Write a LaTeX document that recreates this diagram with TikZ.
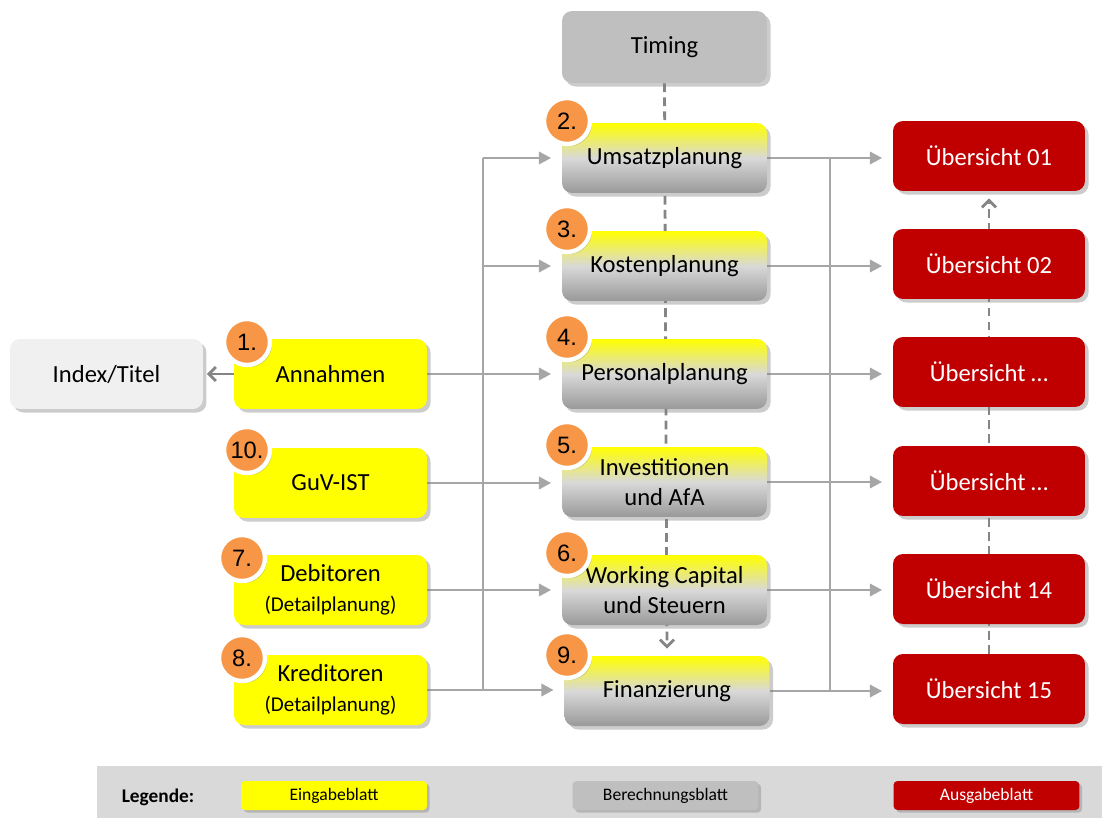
\documentclass[tikz,border=0pt]{standalone}
\usepackage{fontspec}
\setmainfont{Carlito}
\newfontfamily\badgefont{Liberation Sans}
\usetikzlibrary{arrows.meta,shadows,backgrounds}
\definecolor{eingabe}{HTML}{FFFF00}
\definecolor{ausgabe}{HTML}{C00000}
\definecolor{rechen}{HTML}{BFBFBF}
\definecolor{indexgrau}{HTML}{F0F0F0}
\definecolor{badgeorange}{HTML}{F79646}
\definecolor{linegrau}{HTML}{A6A6A6}
\definecolor{dashgrau}{HTML}{858585}
\definecolor{legendgrau}{HTML}{D9D9D9}
\tikzset{
	sheet/.style={rounded corners=0.2cm, minimum height=1.4cm, align=center, inner sep=2pt,
		font=\fontsize{14}{17}\selectfont,
		drop shadow={shadow xshift=2pt, shadow yshift=-2pt, opacity=0.4}},
	eingabe/.style={sheet, fill=eingabe, minimum width=3.86cm},
	rechnung/.style={sheet, top color=eingabe, bottom color=black!40, middle color=black!15, minimum width=4.1cm},
	ausgabe/.style={sheet, fill=ausgabe, text=white, minimum width=3.84cm},
	badge/.style={circle, fill=badgeorange, draw=white, line width=2.5pt, minimum size=0.92cm, inner sep=0pt,
		font=\badgefont\fontsize{13.5}{14}\selectfont,
		drop shadow={shadow xshift=1.2pt, shadow yshift=-1.2pt, opacity=0.35}},
	conn/.style={draw=linegrau, line width=1.6pt, -{Triangle[length=7pt,width=7pt]}, shorten >=6pt},
	trunk/.style={draw=linegrau, line width=1.6pt},
	dashconn/.style={draw=dashgrau, line width=1.6pt, dash pattern=on 5pt off 3pt,
		-{Straight Barb[length=4pt,width=8pt]}, shorten >=4pt},
	legendbox/.style={rounded corners=0.08cm, minimum width=3.72cm, minimum height=0.58cm,
		font=\fontsize{10}{12}\selectfont,
		drop shadow={shadow xshift=1.5pt, shadow yshift=-1.5pt, opacity=0.4}}
}

\begin{document}
\begin{tikzpicture}[x=0.02cm, y=-0.02cm]
			%%%%% START %%%%%
			\useasboundingbox (0, 0) rectangle (1102, 818);
			
			% Berechnungsblaetter
			\node[sheet, fill=rechen, minimum width=4.1cm, minimum height=1.44cm] (timing) at (664.5, 47) {Timing};
			\node[rechnung] (umsatz) at (664.5, 158) {Umsatzplanung};
			\node[rechnung] (kosten) at (664.5, 266) {Kostenplanung};
			\node[rechnung] (personal) at (664.5, 374) {Personalplanung};
			\node[rechnung] (invest) at (664.5, 482) {Investitionen\\und AfA};
			\node[rechnung] (wcap) at (664.5, 590) {Working Capital\\und Steuern};
			\node[rechnung] (finanz) at (667, 691) {Finanzierung};
			
			% Ausgabeblaetter
			\node[ausgabe] (ueb01) at (989, 156) {Übersicht 01};
			\node[ausgabe] (ueb02) at (989, 264) {Übersicht 02};
			\node[ausgabe] (uebA) at (989, 372) {Übersicht \dots};
			\node[ausgabe] (uebB) at (989, 481) {Übersicht \dots};
			\node[ausgabe] (ueb14) at (989, 589) {Übersicht 14};
			\node[ausgabe] (ueb15) at (989, 689) {Übersicht 15};
			
			% Eingabeblaetter
			\node[sheet, fill=indexgrau, minimum width=3.86cm] (index) at (106.5, 374) {Index/Titel};
			\node[eingabe] (annahmen) at (330.5, 374) {Annahmen};
			\node[eingabe] (guv) at (330.5, 483) {GuV-IST};
			\node[eingabe] (debitoren) at (330.5, 590) {Debitoren\\{\fontsize{12}{14}\selectfont(Detailplanung)}};
			\node[eingabe] (kreditoren) at (330.5, 690) {Kreditoren\\{\fontsize{12}{14}\selectfont(Detailplanung)}};
			
			% Nummern
			\node[badge] (b1) at (247, 342) {1.};
			\node[badge] (b10) at (247, 450) {10.};
			\node[badge] (b7) at (242, 558) {7.};
			\node[badge] (b8) at (242, 658) {8.};
			\node[badge] (b2) at (567, 121) {2.};
			\node[badge] (b3) at (567, 229) {3.};
			\node[badge] (b4) at (567, 337) {4.};
			\node[badge] (b5) at (567, 445) {5.};
			\node[badge] (b6) at (567, 553) {6.};
			\node[badge] (b9) at (567, 655) {9.};
			
			\coordinate (ltrunk) at (483, 0);
			\coordinate (rtrunk) at (830, 0);
			
			\begin{scope}[on background layer]
				\draw[dashconn] (timing.south) -- (finanz.north);
				\draw[dashconn] (ueb15.north) -- (ueb01.south);
				
				\draw[trunk] (umsatz.west -| ltrunk) -- (kreditoren.east -| ltrunk);
				\draw[conn] (umsatz.west -| ltrunk) -- (umsatz.west);
				\draw[conn] (kosten.west -| ltrunk) -- (kosten.west);
				\draw[conn] (annahmen.east) -- (annahmen.east -| personal.west);
				\draw[conn] (guv.east) -- (guv.east -| invest.west);
				\draw[conn] (debitoren.east) -- (debitoren.east -| wcap.west);
				\draw[conn] (kreditoren.east) -- (kreditoren.east -| finanz.west);
				\draw[draw=dashgrau, line width=1.6pt, -{Straight Barb[length=4pt,width=8pt]}, shorten >=2pt] (annahmen.west) -- (index.east);
				
				\draw[trunk] (umsatz.east -| rtrunk) -- (finanz.east -| rtrunk);
				\draw[conn] (umsatz.east) -- (umsatz.east -| ueb01.west);
				\draw[conn] (kosten.east) -- (kosten.east -| ueb02.west);
				\draw[conn] (personal.east) -- (personal.east -| uebA.west);
				\draw[conn] (invest.east) -- (invest.east -| uebB.west);
				\draw[conn] (wcap.east) -- (wcap.east -| ueb14.west);
				\draw[conn] (finanz.east) -- (finanz.east -| ueb15.west);
			\end{scope}
			
			% Legende
			\fill[legendgrau] (97, 766) rectangle (1102, 818);
			\node[font=\fontsize{11}{13}\selectfont\bfseries] (legende) at (158, 797) {Legende:};
			\node[legendbox, fill=eingabe] (leg1) at (334, 795.5) {Eingabeblatt};
			\node[legendbox, fill=rechen] (leg2) at (665.5, 795.5) {Berechnungsblatt};
			\node[legendbox, fill=ausgabe, text=white] (leg3) at (986.5, 795.5) {Ausgabeblatt};
			%%%%% END %%%%%
\end{tikzpicture}
\end{document}
